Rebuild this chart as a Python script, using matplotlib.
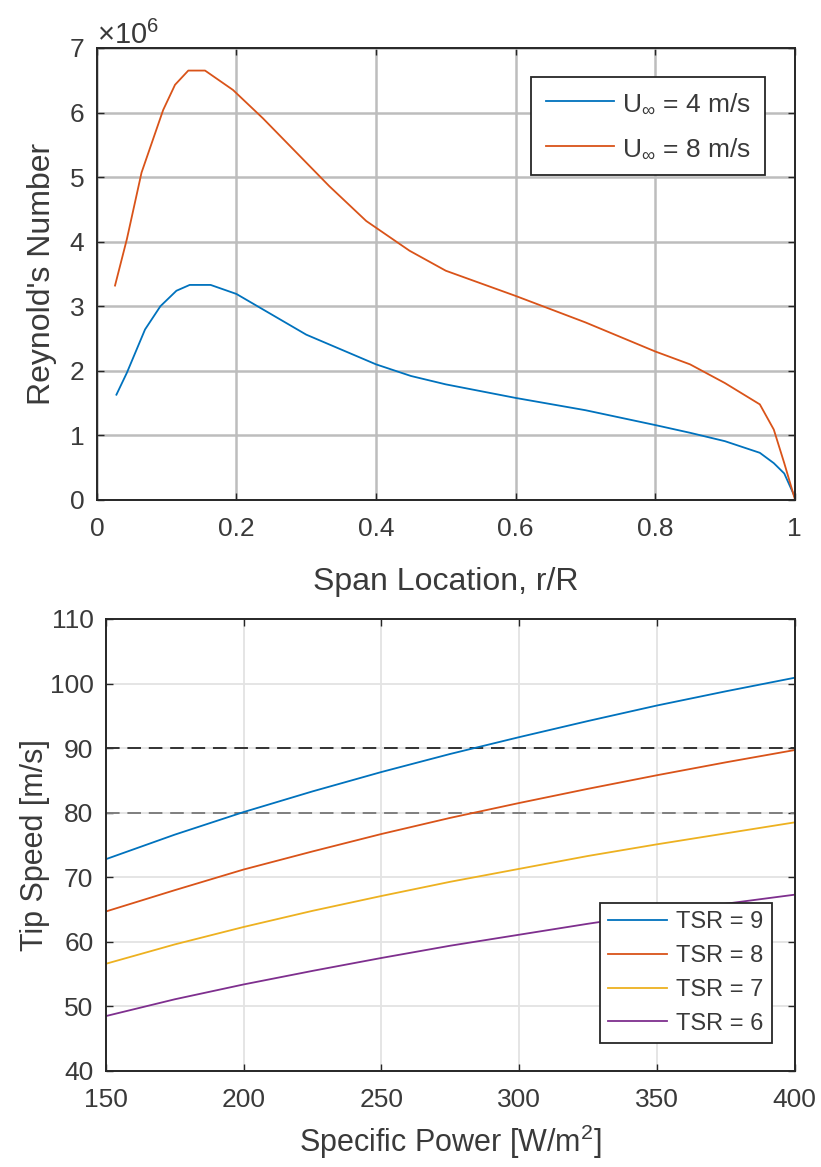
import numpy as np
import matplotlib
matplotlib.use("Agg")
import matplotlib.pyplot as plt
from matplotlib.ticker import ScalarFormatter

plt.rcParams["font.family"] = ["Liberation Sans", "DejaVu Sans"]
plt.rcParams["mathtext.fontset"] = "custom"
plt.rcParams["mathtext.rm"] = "Liberation Sans"
plt.rcParams["mathtext.it"] = "Liberation Sans"

# ── Reynolds number along the blade span ─────────────────────────
span_u4 = [0.028, 0.043, 0.069, 0.091, 0.114, 0.133, 0.163, 0.20, 0.30, 0.40,
           0.45, 0.50, 0.60, 0.70, 0.80, 0.85, 0.90, 0.95, 0.97, 0.985, 1.0]
re_u4 = [1.63, 1.97, 2.64, 3.00, 3.24, 3.33, 3.33, 3.19, 2.56, 2.10,
         1.92, 1.79, 1.58, 1.39, 1.16, 1.04, 0.91, 0.73, 0.57, 0.41, 0.05]

span_u8 = [0.026, 0.043, 0.064, 0.095, 0.112, 0.131, 0.155, 0.195, 0.238, 0.333,
           0.386, 0.448, 0.50, 0.60, 0.70, 0.80, 0.85, 0.90, 0.95, 0.97, 0.985, 1.0]
re_u8 = [3.32, 4.04, 5.07, 6.04, 6.43, 6.65, 6.65, 6.35, 5.91, 4.86,
         4.32, 3.86, 3.55, 3.16, 2.75, 2.30, 2.10, 1.81, 1.48, 1.09, 0.57, 0.02]

# ── Tip speed vs specific power ──────────────────────────────────
spec_power = [150, 175, 200, 225, 250, 275, 300, 325, 350, 375, 400]
tip_tsr9 = [72.8, 76.6, 80.1, 83.3, 86.3, 89.1, 91.7, 94.2, 96.6, 98.8, 100.9]
tip_tsr8 = [64.7, 68.0, 71.2, 74.0, 76.7, 79.2, 81.5, 83.7, 85.8, 87.8, 89.7]
tip_tsr7 = [56.6, 59.6, 62.3, 64.8, 67.1, 69.3, 71.3, 73.3, 75.1, 76.8, 78.5]
tip_tsr6 = [48.5, 51.1, 53.4, 55.5, 57.5, 59.4, 61.1, 62.8, 64.4, 65.9, 67.3]
speed_limits = [90, 80]

BLUE, ORANGE, YELLOW, PURPLE = "#0072BD", "#D95319", "#EDB120", "#7E2F8E"
TXT = "#3a3a3a"
SPINE = "#262626"

fig = plt.figure(figsize=(8.21, 11.67), dpi=100, facecolor="white")


def matlab_style(ax, grid_c, grid_lw):
    for s in ax.spines.values():
        s.set_color(SPINE)
        s.set_linewidth(1.4)
    ax.tick_params(direction="in", top=True, right=True, length=5,
                   width=1.0, colors=SPINE, labelcolor=TXT, labelsize=19, pad=9)
    ax.tick_params(axis="x", pad=12)
    ax.grid(True, color=grid_c, linewidth=grid_lw)
    ax.set_axisbelow(True)


# top panel
ax1 = fig.add_axes([0.118, 0.5716, 0.850, 0.3873])
ax1.plot(span_u4, np.array(re_u4) * 1e6, color=BLUE, lw=1.3, label=r"U$_{\infty}$ = 4 m/s")
ax1.plot(span_u8, np.array(re_u8) * 1e6, color=ORANGE, lw=1.3, label=r"U$_{\infty}$ = 8 m/s")
ax1.set_xlim(0, 1)
ax1.set_ylim(0, 7e6)
ax1.set_xticks([0, 0.2, 0.4, 0.6, 0.8, 1])
ax1.set_xticklabels(["0", "0.2", "0.4", "0.6", "0.8", "1"])
fmt = ScalarFormatter(useMathText=True)
fmt.set_powerlimits((6, 6))
ax1.yaxis.set_major_formatter(fmt)
ax1.yaxis.get_offset_text().set_fontsize(21)
ax1.yaxis.get_offset_text().set_color(TXT)
matlab_style(ax1, "#bdbdbd", 1.8)
ax1.set_xlabel("Span Location, r/R", fontsize=23, color=TXT, labelpad=19)
ax1.set_ylabel("Reynold's Number", fontsize=23, color=TXT, labelpad=8)
leg1 = ax1.legend(loc="upper right", bbox_to_anchor=(0.958, 0.936), fontsize=19,
                  frameon=True, fancybox=False, edgecolor=SPINE, framealpha=1,
                  handlelength=2.6, handletextpad=0.3, borderpad=0.55,
                  labelspacing=0.8, borderaxespad=0)
leg1.get_frame().set_linewidth(1.3)
for t in leg1.get_texts():
    t.set_color(TXT)

# bottom panel
ax2 = fig.add_axes([0.129, 0.0823, 0.839, 0.3873])
ax2.axhline(speed_limits[0], color="#333333", lw=1.4, ls=(0, (7, 4)))
ax2.axhline(speed_limits[1], color="#7f7f7f", lw=1.4, ls=(0, (7, 4)))
ax2.plot(spec_power, tip_tsr9, color=BLUE, lw=1.3, label="TSR = 9")
ax2.plot(spec_power, tip_tsr8, color=ORANGE, lw=1.3, label="TSR = 8")
ax2.plot(spec_power, tip_tsr7, color=YELLOW, lw=1.3, label="TSR = 7")
ax2.plot(spec_power, tip_tsr6, color=PURPLE, lw=1.3, label="TSR = 6")
ax2.set_xlim(150, 400)
ax2.set_ylim(40, 110)
ax2.set_xticks(range(150, 401, 50))
ax2.set_yticks(range(40, 111, 10))
matlab_style(ax2, "#e3e3e3", 1.3)
ax2.set_xlabel("Specific Power [W/m$^2$]", fontsize=22, color=TXT, labelpad=8)
ax2.set_ylabel("Tip Speed [m/s]", fontsize=22, color=TXT, labelpad=0)
leg2 = ax2.legend(loc="lower right", bbox_to_anchor=(0.967, 0.062), fontsize=17,
                  frameon=True, fancybox=False, edgecolor=SPINE, framealpha=1,
                  handlelength=2.5, handletextpad=0.4, borderpad=0.35,
                  labelspacing=0.5, borderaxespad=0)
leg2.get_frame().set_linewidth(1.3)
for t in leg2.get_texts():
    t.set_color(TXT)

fig.savefig("out.png", dpi=100, facecolor="white")
